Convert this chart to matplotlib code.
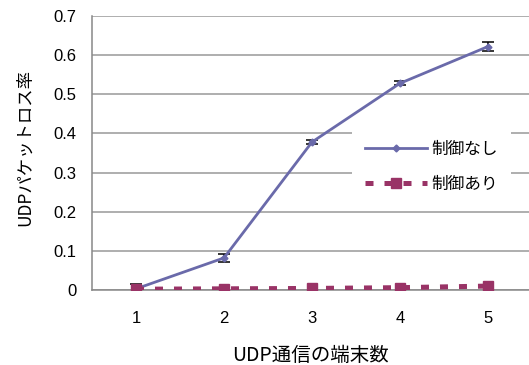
import matplotlib
matplotlib.use("Agg")
import matplotlib.pyplot as plt
from matplotlib.lines import Line2D

# UDP packet loss rate vs. number of UDP terminals
terminals = [1, 2, 3, 4, 5]
loss_no_ctrl = [0.003, 0.082, 0.378, 0.528, 0.622]
err_no_ctrl = [0.012, 0.011, 0.004, 0.005, 0.012]
loss_ctrl = [0.002, 0.003, 0.004, 0.006, 0.010]

label_no_ctrl = "制御なし"
label_ctrl = "制御あり"
xlabel = "UDP通信の端末数"
ylabel = "UDPパケットロス率"
yticks = [0, 0.1, 0.2, 0.3, 0.4, 0.5, 0.6, 0.7]

jp = ["Noto Sans CJK JP", "DejaVu Sans"]
latin = ["Liberation Sans", "Noto Sans CJK JP"]

blue = "#6a6aaa"
maroon = "#993366"

fig = plt.figure(figsize=(5.29, 3.65), dpi=100)
ax = fig.add_axes([92 / 529, 1 - 290 / 365, 440 / 529, 274 / 365])

blue_style = dict(color=blue, lw=2, marker="D", ms=3.5)
maroon_style = dict(color=maroon, lw=3.6, dashes=(1.6, 2.2), marker="s", ms=7.5)

ax.errorbar(terminals, loss_no_ctrl, yerr=err_no_ctrl, ecolor="black",
            elinewidth=1.1, capsize=4.3, capthick=1.1, zorder=3, **blue_style)
ax.plot(terminals, loss_ctrl, zorder=4, **maroon_style)

ax.set_xlim(0.5, 5.5)
ax.set_ylim(0, 0.7)
ax.set_xticks(terminals)
ax.set_yticks(yticks)
ax.set_yticklabels(["0"] + [f"{v:.1f}" for v in yticks[1:]])

ax.grid(axis="y", color="#999999", lw=1.1)
ax.set_axisbelow(True)
for side in ("top", "right"):
    ax.spines[side].set_visible(False)
for side in ("left", "bottom"):
    ax.spines[side].set_color("#888888")
    ax.spines[side].set_linewidth(1.1)

ax.tick_params(axis="both", length=0, labelsize=12)
ax.tick_params(axis="y", pad=11)
ax.tick_params(axis="x", pad=15)
for t in ax.get_xticklabels() + ax.get_yticklabels():
    t.set_family(latin)

fig.text(25 / 529, 1 - 148 / 365, ylabel, rotation=90, ha="center",
         va="center", fontsize=12.5, family=jp)
fig.text(310 / 529, 1 - 355 / 365, xlabel, ha="center", va="center",
         fontsize=14, family=jp)

handles = [Line2D([], [], **blue_style), Line2D([], [], **maroon_style)]
leg = ax.legend(handles, [label_no_ctrl, label_ctrl], loc="center left",
                bbox_to_anchor=(352 / 529, 1 - 167 / 365),
                bbox_transform=fig.transFigure, frameon=True, fancybox=False,
                borderpad=0.8, borderaxespad=0, handlelength=3.7,
                handletextpad=0.25, labelspacing=1.05, numpoints=1,
                prop={"family": jp, "size": 12})
leg.get_frame().set_facecolor("white")
leg.get_frame().set_edgecolor("none")
leg.get_frame().set_alpha(1)

fig.savefig("out.png", dpi=100)
